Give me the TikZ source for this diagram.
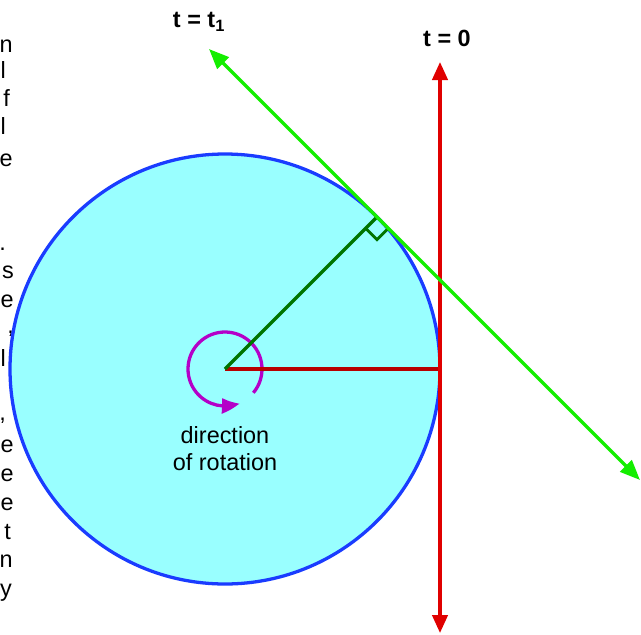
\documentclass[tikz,border=0pt]{standalone}
\usepackage{fontspec}
\setmainfont{Liberation Sans}
\usetikzlibrary{arrows.meta,calc,bending}
\definecolor{discfill}{HTML}{99FFFF}
\definecolor{discedge}{HTML}{1A3CFF}
\definecolor{zerored}{HTML}{E00000}
\definecolor{rimred}{HTML}{B80000}
\definecolor{onegreen}{HTML}{14EE00}
\definecolor{deepgreen}{HTML}{007400}
\definecolor{spinpurple}{HTML}{B400C8}
\tikzset{
  disc/.style={draw=discedge,fill=discfill,line width=2.8pt},
  zeroline/.style={draw=zerored,line width=2.8pt,
                   arrows={Triangle[length=5.4mm,width=4.6mm]-Triangle[length=5.4mm,width=4.6mm]}},
  oneline/.style={draw=onegreen,line width=2.8pt,
                  arrows={Triangle[length=6mm,width=4.8mm]-Triangle[length=6mm,width=4.8mm]}},
  rimline/.style={draw=rimred,line width=2.8pt},
  touchline/.style={draw=deepgreen,line width=2.8pt},
  squaremark/.style={draw=deepgreen,line width=2.4pt},
  spin/.style={draw=spinpurple,line width=2.8pt,-{Triangle[length=5.4mm,width=4.4mm,bend]}},
  timelabel/.style={inner sep=0pt,font=\fontsize{20}{24}\selectfont\bfseries},
  captext/.style={inner sep=0pt,align=center,font=\fontsize{20}{23}\selectfont},
  edgetext/.style={inner sep=0pt,anchor=base east,font=\fontsize{20}{24}\selectfont}
}

\begin{document}
\begin{tikzpicture}[x=0.03cm,y=-0.03cm]
  \useasboundingbox (0,0) rectangle (641,634);
  % ends of text lines cut off at the left margin
  \node[edgetext] (cuta) at (13,52) {n};
  \node[edgetext] (cutb) at (6,78) {l};
  \node[edgetext] (cutc) at (10,106) {f};
  \node[edgetext] (cutd) at (6,134) {l};
  \node[edgetext] (cute) at (13,166) {e};
  \node[edgetext] (cutf) at (6,250) {.};
  \node[edgetext] (cutg) at (14,278) {s};
  \node[edgetext] (cuth) at (14,307) {e};
  \node[edgetext] (cuti) at (14,333) {,};
  \node[edgetext] (cutj) at (6,366) {l};
  \node[edgetext] (cutk) at (6,420) {,};
  \node[edgetext] (cutl) at (14,452) {e};
  \node[edgetext] (cutm) at (14,481) {e};
  \node[edgetext] (cutn) at (14,510) {e};
  \node[edgetext] (cuto) at (11,539) {t};
  \node[edgetext] (cutp) at (13,567) {n};
  \node[edgetext] (cutq) at (12,596) {y};

  % the disc
  \coordinate (centre) at (225,369);
  \draw[disc] (centre) circle (215);
  \coordinate (touch) at ($(centre)+(-45:215)$);
  \coordinate (rim) at (440,369);
  \coordinate (zerotop) at (440,62);
  \coordinate (zerobot) at (440,633);
  \coordinate (onetop) at (209,49);
  \coordinate (onebot) at (640,480);

  \draw[spin] ($(centre)+(40:37)$) arc (40:-293:37);
  \draw[rimline] (centre) -- (rim);
  \draw[touchline] (centre) -- (touch);
  \draw[squaremark] ($(touch)+(-11.3,11.3)$) -- ($(touch)+(0,22.6)$) -- ($(touch)+(11.3,11.3)$);
  \draw[zeroline] (zerotop) -- (zerobot);
  \draw[oneline] (onetop) -- (onebot);

  \node[timelabel] (labone) at (199,22) {t = t\textsubscript{1}};
  \node[timelabel] (labzero) at (447,38) {t = 0};
  \node[captext] (caption) at (225,449) {direction\\of rotation};
\end{tikzpicture}
\end{document}
